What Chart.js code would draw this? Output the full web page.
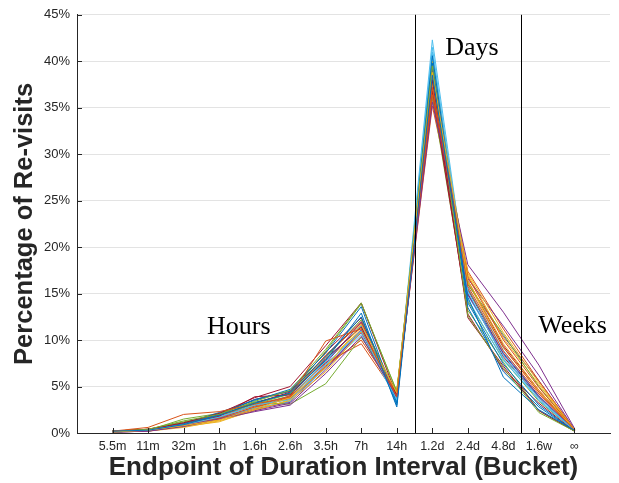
<!DOCTYPE html>
<html>
<head>
<meta charset="utf-8">
<script src="https://cdn.jsdelivr.net/npm/chart.js@4.4.0/dist/chart.umd.min.js"></script>
<style>
  body { margin: 0; background: #fff; }
  #wrap { width: 619px; height: 483px; }
</style>
</head>
<body>
<div id="wrap"><canvas id="revisitChart"></canvas></div>
<script>
// buckets (endpoint of each duration interval)
const buckets = ['5.5m', '11m', '32m', '1h', '1.6h', '2.6h', '3.5h', '7h', '14h', '1.2d', '2.4d', '4.8d', '1.6w', '∞'];
const yTicks = [0, 5, 10, 15, 20, 25, 30, 35, 40, 45];

// % of re-visits per bucket, one line per user
const u01 = [0.2, 0.3, 0.9, 1.9, 3.2, 4.3, 7.8, 12.9, 2.8, 38.5, 14.6, 6.0, 2.5, 0.3];
const u02 = [0.2, 0.6, 2.0, 2.3, 3.1, 3.9, 9.9, 11.2, 3.9, 37.2, 15.8, 9.2, 4.4, 0.3];
const u03 = [0.1, 0.3, 0.8, 1.4, 2.6, 3.8, 7.0, 11.7, 4.3, 38.8, 16.4, 9.6, 4.6, 0.4];
const u04 = [0.1, 0.2, 0.7, 1.5, 2.3, 3.0, 6.4, 10.4, 3.9, 35.6, 18.1, 13.0, 7.3, 0.5];
const u05 = [0.2, 0.4, 1.3, 2.0, 3.4, 4.6, 9.0, 14.0, 4.4, 39.5, 12.6, 7.0, 2.2, 0.2];
const u06 = [0.2, 0.3, 0.9, 1.7, 3.0, 3.6, 7.4, 11.0, 3.6, 42.3, 15.2, 8.0, 3.8, 0.3];
const u07 = [0.2, 0.4, 1.1, 2.1, 3.8, 5.0, 9.4, 14.0, 4.0, 38.0, 12.4, 7.2, 2.4, 0.2];
const u08 = [0.1, 0.3, 1.0, 2.2, 3.5, 4.7, 8.6, 13.6, 3.2, 40.6, 14.0, 7.4, 3.0, 0.2];
const u09 = [0.2, 0.4, 1.0, 1.6, 2.8, 3.7, 7.2, 10.0, 4.2, 36.4, 16.8, 10.0, 4.9, 0.4];
const u10 = [0.1, 0.3, 0.7, 1.2, 2.5, 3.5, 6.6, 10.9, 4.5, 37.6, 17.2, 10.8, 5.4, 0.4];
const u11 = [0.1, 0.2, 0.8, 1.6, 2.4, 3.2, 6.8, 11.1, 4.0, 39.0, 14.9, 8.6, 4.0, 0.3];
const u12 = [0.2, 0.3, 1.5, 2.1, 3.3, 3.1, 5.3, 10.3, 4.6, 38.2, 16.0, 10.6, 5.0, 0.3];
const u13 = [0.1, 0.3, 0.8, 1.6, 2.7, 3.4, 7.0, 10.6, 3.5, 41.5, 14.4, 7.8, 3.6, 0.3];
const u14 = [0.2, 0.3, 0.9, 1.8, 3.9, 4.1, 8.0, 11.4, 3.7, 36.8, 12.8, 6.8, 3.2, 0.2];
const u15 = [0.1, 0.3, 0.9, 2.0, 3.6, 4.5, 8.2, 12.5, 3.0, 39.8, 13.5, 6.6, 2.8, 0.2];
const u16 = [0.2, 0.3, 1.0, 1.9, 2.9, 4.0, 8.4, 11.8, 4.1, 37.9, 15.5, 8.8, 4.2, 0.3];
const u17 = [0.1, 0.2, 0.6, 1.3, 2.4, 3.6, 7.2, 11.3, 4.2, 40.0, 16.2, 9.2, 4.4, 0.3];
const u18 = [0.1, 0.3, 0.9, 1.7, 2.6, 3.3, 7.5, 11.9, 3.8, 37.4, 16.6, 11.5, 6.2, 0.4];
const u19 = [0.2, 0.4, 1.2, 1.9, 3.1, 4.2, 8.8, 13.9, 4.5, 36.2, 13.2, 7.6, 2.4, 0.2];
const u20 = [0.1, 0.3, 0.9, 1.8, 3.0, 4.0, 7.7, 11.6, 3.3, 41.0, 14.8, 8.4, 3.5, 0.3];
const u21 = [0.2, 0.3, 1.0, 1.9, 3.2, 4.4, 8.3, 12.0, 3.9, 38.6, 15.0, 8.2, 3.8, 0.3];
const u22 = [0.1, 0.3, 0.9, 1.8, 3.3, 4.2, 7.9, 11.5, 3.4, 39.2, 15.4, 8.5, 3.9, 0.3];
const u23 = [0.2, 0.3, 0.8, 1.6, 2.7, 3.9, 7.6, 9.6, 4.0, 35.2, 17.4, 11.2, 5.6, 0.4];
const u24 = [0.1, 0.3, 0.7, 1.4, 2.8, 3.8, 7.8, 11.0, 4.4, 38.4, 17.0, 10.2, 5.2, 0.4];
const u25 = [0.1, 0.2, 0.7, 1.5, 2.5, 3.4, 7.1, 10.8, 3.9, 36.0, 16.0, 10.4, 5.6, 0.4];
const u26 = [0.2, 0.3, 1.1, 1.9, 3.2, 4.3, 8.1, 12.2, 4.2, 37.0, 14.2, 7.9, 3.4, 0.3];
const u27 = [0.1, 0.3, 0.8, 1.7, 2.9, 3.9, 7.3, 10.9, 3.6, 40.5, 15.6, 8.9, 3.9, 0.3];
const u28 = [0.2, 0.4, 1.0, 2.0, 3.6, 4.5, 8.7, 12.4, 3.8, 36.6, 16.4, 9.4, 4.6, 0.3];
const users = [u01, u02, u03, u04, u05, u06, u07, u08, u09, u10, u11, u12, u13, u14,
               u15, u16, u17, u18, u19, u20, u21, u22, u23, u24, u25, u26, u27, u28];

// region text and where it sits (x = bucket position, y = %)
const regionNames = ['Hours', 'Days', 'Weeks'];
const regionSpots = [[3.66, 10.7], [10.36, 40.7], [12.98, 10.8]];
const dividers = [9.5, 12.5];

// matlab default line colours
const lineColors = ['#0072BD', '#D95319', '#EDB120', '#7E2F8E', '#77AC30', '#4DBEEE', '#A2142F'];

const inkColor = '#262626';

// dividers, inward ticks and region text
const overlay = {
  id: 'overlay',
  afterDatasetsDraw(chart) {
    const ctx = chart.ctx;
    const area = chart.chartArea;
    const x = chart.scales.x, y = chart.scales.y;
    ctx.save();

    ctx.lineWidth = 1;
    ctx.strokeStyle = '#000';
    dividers.forEach(v => {
      const px = Math.round(x.getPixelForValue(v)) + 0.5;
      ctx.beginPath();
      ctx.moveTo(px, area.top);
      ctx.lineTo(px, area.bottom);
      ctx.stroke();
    });

    ctx.strokeStyle = inkColor;
    for (let i = 1; i <= buckets.length; i++) {
      const px = Math.round(x.getPixelForValue(i)) + 0.5;
      ctx.beginPath();
      ctx.moveTo(px, area.bottom);
      ctx.lineTo(px, area.bottom - 5);
      ctx.stroke();
    }
    yTicks.forEach(v => {
      const py = Math.round(y.getPixelForValue(v)) + 0.5;
      ctx.beginPath();
      ctx.moveTo(area.left, py);
      ctx.lineTo(area.left + 5, py);
      ctx.stroke();
    });

    ctx.fillStyle = '#000';
    ctx.font = '26px "Liberation Serif"';
    ctx.textAlign = 'left';
    ctx.textBaseline = 'alphabetic';
    regionNames.forEach((t, i) => {
      ctx.fillText(t, x.getPixelForValue(regionSpots[i][0]), y.getPixelForValue(regionSpots[i][1]));
    });
    ctx.restore();
  }
};

const datasets = users.map((u, k) => ({
  label: 'user ' + (k + 1),
  data: u.map((v, i) => ({ x: i + 1, y: v })),
  borderColor: lineColors[k % lineColors.length],
  borderWidth: 1,
  pointRadius: 0,
  tension: 0,
  fill: false
}));

new Chart(document.getElementById('revisitChart'), {
  type: 'line',
  data: { datasets: datasets },
  plugins: [overlay],
  options: {
    animation: false,
    responsive: true,
    maintainAspectRatio: false,
    layout: { padding: { top: 12, right: 9, left: 0, bottom: 0 } },
    plugins: { legend: { display: false }, tooltip: { enabled: false } },
    scales: {
      x: {
        type: 'linear',
        min: 0,
        max: buckets.length + 1,
        afterFit: s => { s.height = 50; },
        grid: { display: false, drawTicks: false },
        border: { display: true, color: inkColor, width: 1 },
        ticks: {
          stepSize: 1,
          autoSkip: false,
          maxRotation: 0,
          padding: 6,
          color: inkColor,
          font: { family: '"Liberation Sans", Arial', size: 12.5 },
          callback: v => buckets[v - 1] || ''
        },
        title: {
          display: true,
          text: 'Endpoint of Duration Interval (Bucket)',
          color: inkColor,
          padding: { top: 0, bottom: 0 },
          font: { family: '"Liberation Sans", Arial', size: 26, weight: 'bold' }
        }
      },
      y: {
        min: 0,
        max: 45,
        afterFit: s => { s.width = 77; },
        grid: { color: '#e3e3e3', lineWidth: 1, drawTicks: false },
        border: { display: true, color: inkColor, width: 1 },
        ticks: {
          stepSize: 5,
          padding: 7,
          color: inkColor,
          font: { family: '"Liberation Sans", Arial', size: 13 },
          callback: v => v + '%'
        },
        title: {
          display: true,
          text: 'Percentage of Re-visits',
          color: inkColor,
          padding: { top: 10, bottom: 0 },
          font: { family: '"Liberation Sans", Arial', size: 25.5, weight: 'bold' }
        }
      }
    }
  }
});
</script>
</body>
</html>
